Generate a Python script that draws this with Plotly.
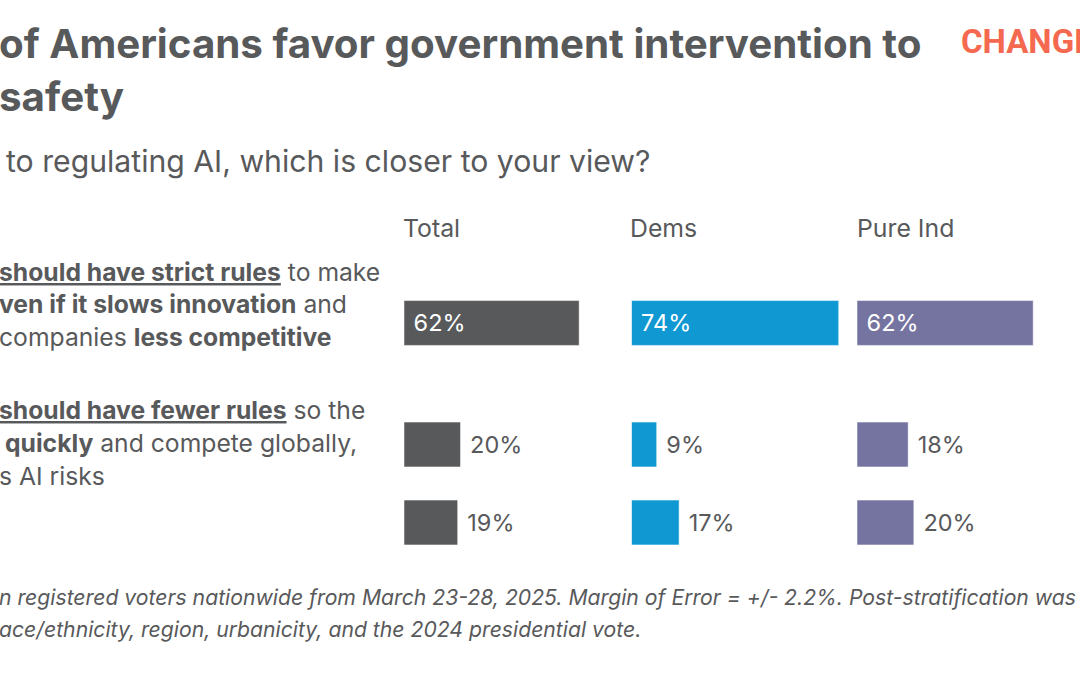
import plotly.graph_objects as go

W, H = 1080, 675
FONT = "Inter"
GREY = "#58595b"

# data
groups = ["Total", "Dems", "Pure Ind"]
strict_rules = [62, 74, 62]
fewer_rules = [20, 9, 18]
unsure = [19, 17, 20]
colors = ["#58595b", "#1098d3", "#7574a1"]

title_lines = ["of Americans favor government intervention to", "safety"]
subtitle = "to regulating AI, which is closer to your view?"
strict_lines = [
    "<b><u>should have strict rules</u></b> to make",
    "<b>ven if it slows innovation</b> and",
    "companies <b>less competitive</b>",
]
fewer_lines = [
    "<b><u>should have fewer rules</u></b> so the",
    "<b>quickly</b> and compete globally,",
    "s AI risks",
]
foot_lines = [
    "<i>n registered voters nationwide from March 23-28, 2025. Margin of Error = +/- 2.2%. Post-stratification was</i>",
    "<i>ace/ethnicity, region, urbanicity, and the 2024 presidential vote.</i>",
]

# panel geometry in pixels: left edge, right edge, axis max
panels = [(404, 630, 80), (631.5, 855.5, 80), (857, 1073, 76)]


def px_x(v):
    return v / W


def px_y(v):
    return 1 - v / H


fig = go.Figure()

for i, group in enumerate(groups):
    ax = "x" if i == 0 else f"x{i + 1}"
    fig.add_trace(go.Bar(
        x=[strict_rules[i]], y=["strict"], orientation="h", xaxis=ax, yaxis="y",
        marker=dict(color=colors[i], line=dict(color="rgba(255,255,255,0.5)", width=1)),
        width=0.575,
        text=[f"\u00a0{strict_rules[i]}%"], textposition="inside", insidetextanchor="start",
        textangle=0, constraintext="none",
        textfont=dict(family=FONT, size=23.5, color="white"),
        showlegend=False,
    ))
    fig.add_trace(go.Bar(
        x=[fewer_rules[i], unsure[i]], y=["fewer", "unsure"], orientation="h", xaxis=ax, yaxis="y4",
        marker=dict(color=colors[i], line=dict(color="rgba(255,255,255,0.5)", width=1)),
        width=0.575,
        text=[f"\u00a0{fewer_rules[i]}%", f"\u00a0{unsure[i]}%"], textposition="outside",
        textangle=0, constraintext="none", cliponaxis=False,
        textfont=dict(family=FONT, size=23.5, color=GREY),
        showlegend=False,
    ))

annotations = []


def label(text, x, y, size, color=GREY, family=FONT):
    annotations.append(dict(
        text=text, x=px_x(x), y=px_y(y), xref="paper", yref="paper",
        xanchor="left", yanchor="middle", align="left", showarrow=False,
        font=dict(family=family, size=size, color=color),
    ))


label(f"<b>{title_lines[0]}</b>", -3, 43, 40.3)
label(f"<b>{title_lines[1]}</b>", -3, 97, 40.3)
label(subtitle, 4, 161, 30.2)
for i, group in enumerate(groups):
    label(group, [401, 628, 855][i], 228, 24.8)
for line, y in zip(strict_lines, [272, 304, 337]):
    label(line, -3, y, 24.7)
for line, y, x in zip(fewer_lines, [410, 443, 476], [-3, 3, -3]):
    label(line, x, y, 24.7)
for line, y in zip(foot_lines, [597, 629]):
    label(line, -3, y, 21.2)
label("<b>CHANGE</b>", 959, 41, 33, "#f4694f", "Roboto")

layout_axes = {}
for i, (x0, x1, top) in enumerate(panels):
    name = "xaxis" if i == 0 else f"xaxis{i + 1}"
    layout_axes[name] = dict(
        domain=[px_x(x0), min(px_x(x1), 1)], range=[0, top], visible=False, fixedrange=True,
        anchor="y",
    )

fig.update_layout(
    width=W, height=H,
    margin=dict(l=0, r=0, t=0, b=0),
    paper_bgcolor="white",
    plot_bgcolor="white",
    barmode="overlay",
    annotations=annotations,
    yaxis=dict(domain=[px_y(362), px_y(284)], type="category", range=[-0.5, 0.5], visible=False),
    yaxis4=dict(domain=[px_y(561.5), px_y(405.5)], type="category",
                categoryorder="array", categoryarray=["unsure", "fewer"],
                range=[-0.5, 1.5], visible=False),
    **layout_axes,
)

# browser default body margin would shift everything by 8px
fig.write_html("out.html", config=dict(displayModeBar=False),
               post_script="document.body.style.margin='0';")
